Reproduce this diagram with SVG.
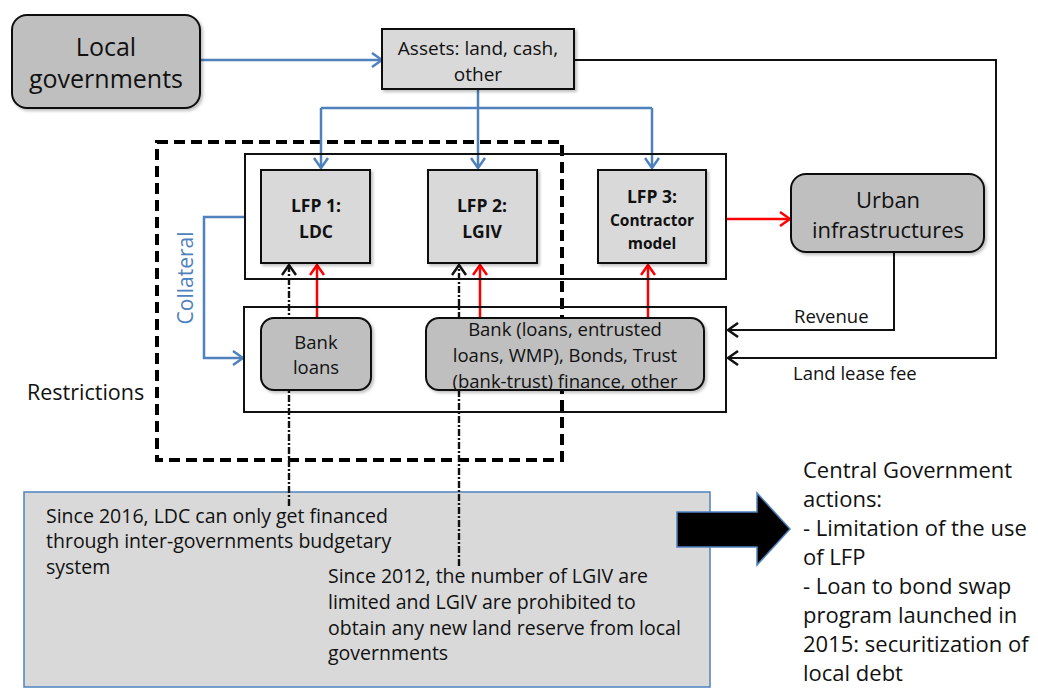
<svg xmlns="http://www.w3.org/2000/svg" width="1038" height="688" viewBox="0 0 1038 688">
<style>
text{font-family:"Open Sans","Liberation Sans",sans-serif;fill:#111}
.c{text-anchor:middle}
.b{font-weight:bold}
.node{stroke:#111;stroke-width:2}
.dark{fill:#bfbfbf}
.light{fill:#d9d9d9}
.cont{fill:none;stroke:#111;stroke-width:2}
.blue{fill:none;stroke:#4f81bd;stroke-width:2.5}
.red{fill:none;stroke:#ff0000;stroke-width:2.5}
.blk{fill:none;stroke:#111;stroke-width:2}
.dash{fill:none;stroke:#111;stroke-width:2.4;stroke-dasharray:7 2 2 2}
</style>
<defs>
<filter id="sh" x="-10%" y="-10%" width="130%" height="130%"><feDropShadow dx="2" dy="2" stdDeviation="1.5" flood-color="#000" flood-opacity="0.25"/></filter>
<marker id="mb" viewBox="0 0 12 16" refX="11" refY="8" markerWidth="12" markerHeight="16" markerUnits="userSpaceOnUse" orient="auto"><path d="M1,1 L11,8 L1,15" fill="none" stroke="#4f81bd" stroke-width="2.5"/></marker>
<marker id="mr" viewBox="0 0 12 16" refX="11" refY="8" markerWidth="12" markerHeight="16" markerUnits="userSpaceOnUse" orient="auto"><path d="M1,1 L11,8 L1,15" fill="none" stroke="#ff0000" stroke-width="2.5"/></marker>
<marker id="mk" viewBox="0 0 12 16" refX="11" refY="8" markerWidth="12" markerHeight="16" markerUnits="userSpaceOnUse" orient="auto"><path d="M1,1 L11,8 L1,15" fill="none" stroke="#111" stroke-width="2.5"/></marker>
</defs>
<rect width="1038" height="688" fill="#fff"/>

<g id="restrictions">
<rect x="157" y="142" width="405" height="318" fill="none" stroke="#000" stroke-width="4" stroke-dasharray="11 6"/>
<text x="27" y="400" font-size="21.5">Restrictions</text>
</g>

<g id="central-actions-box">
<rect x="24" y="492" width="686" height="195" fill="#d9d9d9" stroke="#4f81bd" stroke-width="1.5"/>
<text font-size="19.5"><tspan x="46" y="523">Since 2016, LDC can only get financed</tspan><tspan x="46" y="548">through inter-governments budgetary</tspan><tspan x="46" y="574">system</tspan></text>
<text font-size="19.5"><tspan x="328" y="583">Since 2012, the number of LGIV are</tspan><tspan x="328" y="609">limited and LGIV are prohibited to</tspan><tspan x="328" y="635">obtain any new land reserve from local</tspan><tspan x="328" y="660">governments</tspan></text>
</g>

<g id="connectors">
<path class="dash" d="M289,506 V265" marker-end="url(#mk)"/>
<path class="dash" d="M459,566 V265" marker-end="url(#mk)"/>
<path class="blue" d="M200,60 H382" marker-end="url(#mb)"/>
<path class="blue" d="M321,108 H652"/>
<path class="blue" d="M321,108 V168" marker-end="url(#mb)"/>
<path class="blue" d="M478,89 V168" marker-end="url(#mb)"/>
<path class="blue" d="M652,108 V168" marker-end="url(#mb)"/>
<path class="blk" d="M574,60 H996 V358 H728" marker-end="url(#mk)"/>
<path class="blk" d="M894,252 V330 H728" marker-end="url(#mk)"/>
<path class="red" d="M726,219 H790" marker-end="url(#mr)"/>
<path class="red" d="M317,318 V265" marker-end="url(#mr)"/>
<path class="red" d="M480,318 V265" marker-end="url(#mr)"/>
<path class="red" d="M648,318 V265" marker-end="url(#mr)"/>
<path class="blue" d="M245,217 H204 V358 H243" marker-end="url(#mb)"/>
<text x="794" y="323" font-size="18.5">Revenue</text>
<text x="793" y="380" font-size="18.5">Land lease fee</text>
<text transform="translate(193,278) rotate(-90)" class="c" font-size="21" style="fill:#4f81bd">Collateral</text>
</g>

<g id="lfp-container"><rect class="cont" x="245" y="154" width="481" height="125"/></g>
<g id="finance-container"><rect class="cont" x="244" y="307" width="482" height="105"/></g>

<g id="local-governments">
<rect class="node dark" x="12" y="15" width="188" height="93" rx="15" stroke-width="2.5" filter="url(#sh)"/>
<text class="c" x="106" y="56" font-size="25">Local</text>
<text class="c" x="106" y="88" font-size="25">governments</text>
</g>

<g id="assets">
<rect class="node light" x="382" y="29" width="192" height="60" filter="url(#sh)"/>
<text class="c" x="478" y="55" font-size="19">Assets: land, cash,</text>
<text class="c" x="478" y="81" font-size="19">other</text>
</g>

<g id="lfp1">
<rect class="node light" x="261" y="170" width="109" height="93" filter="url(#sh)"/>
<text class="c b" x="316" y="212" font-size="17.5">LFP 1:</text>
<text class="c b" x="316" y="238" font-size="17.5">LDC</text>
</g>

<g id="lfp2">
<rect class="node light" x="428" y="170" width="109" height="93" filter="url(#sh)"/>
<text class="c b" x="482" y="212" font-size="17.5">LFP 2:</text>
<text class="c b" x="482" y="238" font-size="17.5">LGIV</text>
</g>

<g id="lfp3">
<rect class="node light" x="598" y="170" width="108" height="93" filter="url(#sh)"/>
<text class="c b" x="652" y="203" font-size="17.5">LFP 3:</text>
<text class="c b" x="652" y="226" font-size="15.5">Contractor</text>
<text class="c b" x="652" y="249" font-size="15.5">model</text>
</g>

<g id="urban">
<rect class="node dark" x="791" y="174" width="193" height="78" rx="15" stroke-width="2.5" filter="url(#sh)"/>
<text class="c" x="888" y="208" font-size="22">Urban</text>
<text class="c" x="888" y="238" font-size="22">infrastructures</text>
</g>

<g id="bank-loans">
<rect class="node dark" x="261" y="318" width="110" height="72" rx="13" filter="url(#sh)"/>
<text class="c" x="316" y="349" font-size="18.5">Bank</text>
<text class="c" x="316" y="374" font-size="18.5">loans</text>
</g>

<g id="other-finance">
<rect class="node dark" x="426" y="318" width="278" height="72" rx="13" filter="url(#sh)"/>
<text class="c" x="565" y="336" font-size="18.5">Bank (loans, entrusted</text>
<text class="c" x="565" y="362" font-size="18.5">loans, WMP), Bonds, Trust</text>
<text class="c" x="565" y="388" font-size="18.5">(bank-trust) finance, other</text>
</g>

<g id="central-arrow">
<polygon points="677,512 757,512 757,493 790,529 757,565 757,547 677,547" fill="#000" stroke="#4f81bd" stroke-width="1.5"/>
</g>

<g id="central-text">
<text font-size="22"><tspan x="803" y="478">Central Government</tspan><tspan x="803" y="507">actions:</tspan><tspan x="803" y="536">- Limitation of the use</tspan><tspan x="803" y="565">of LFP</tspan><tspan x="803" y="594">- Loan to bond swap</tspan><tspan x="803" y="623">program launched in</tspan><tspan x="803" y="652">2015: securitization of</tspan><tspan x="803" y="681">local debt</tspan></text>
</g>
</svg>
